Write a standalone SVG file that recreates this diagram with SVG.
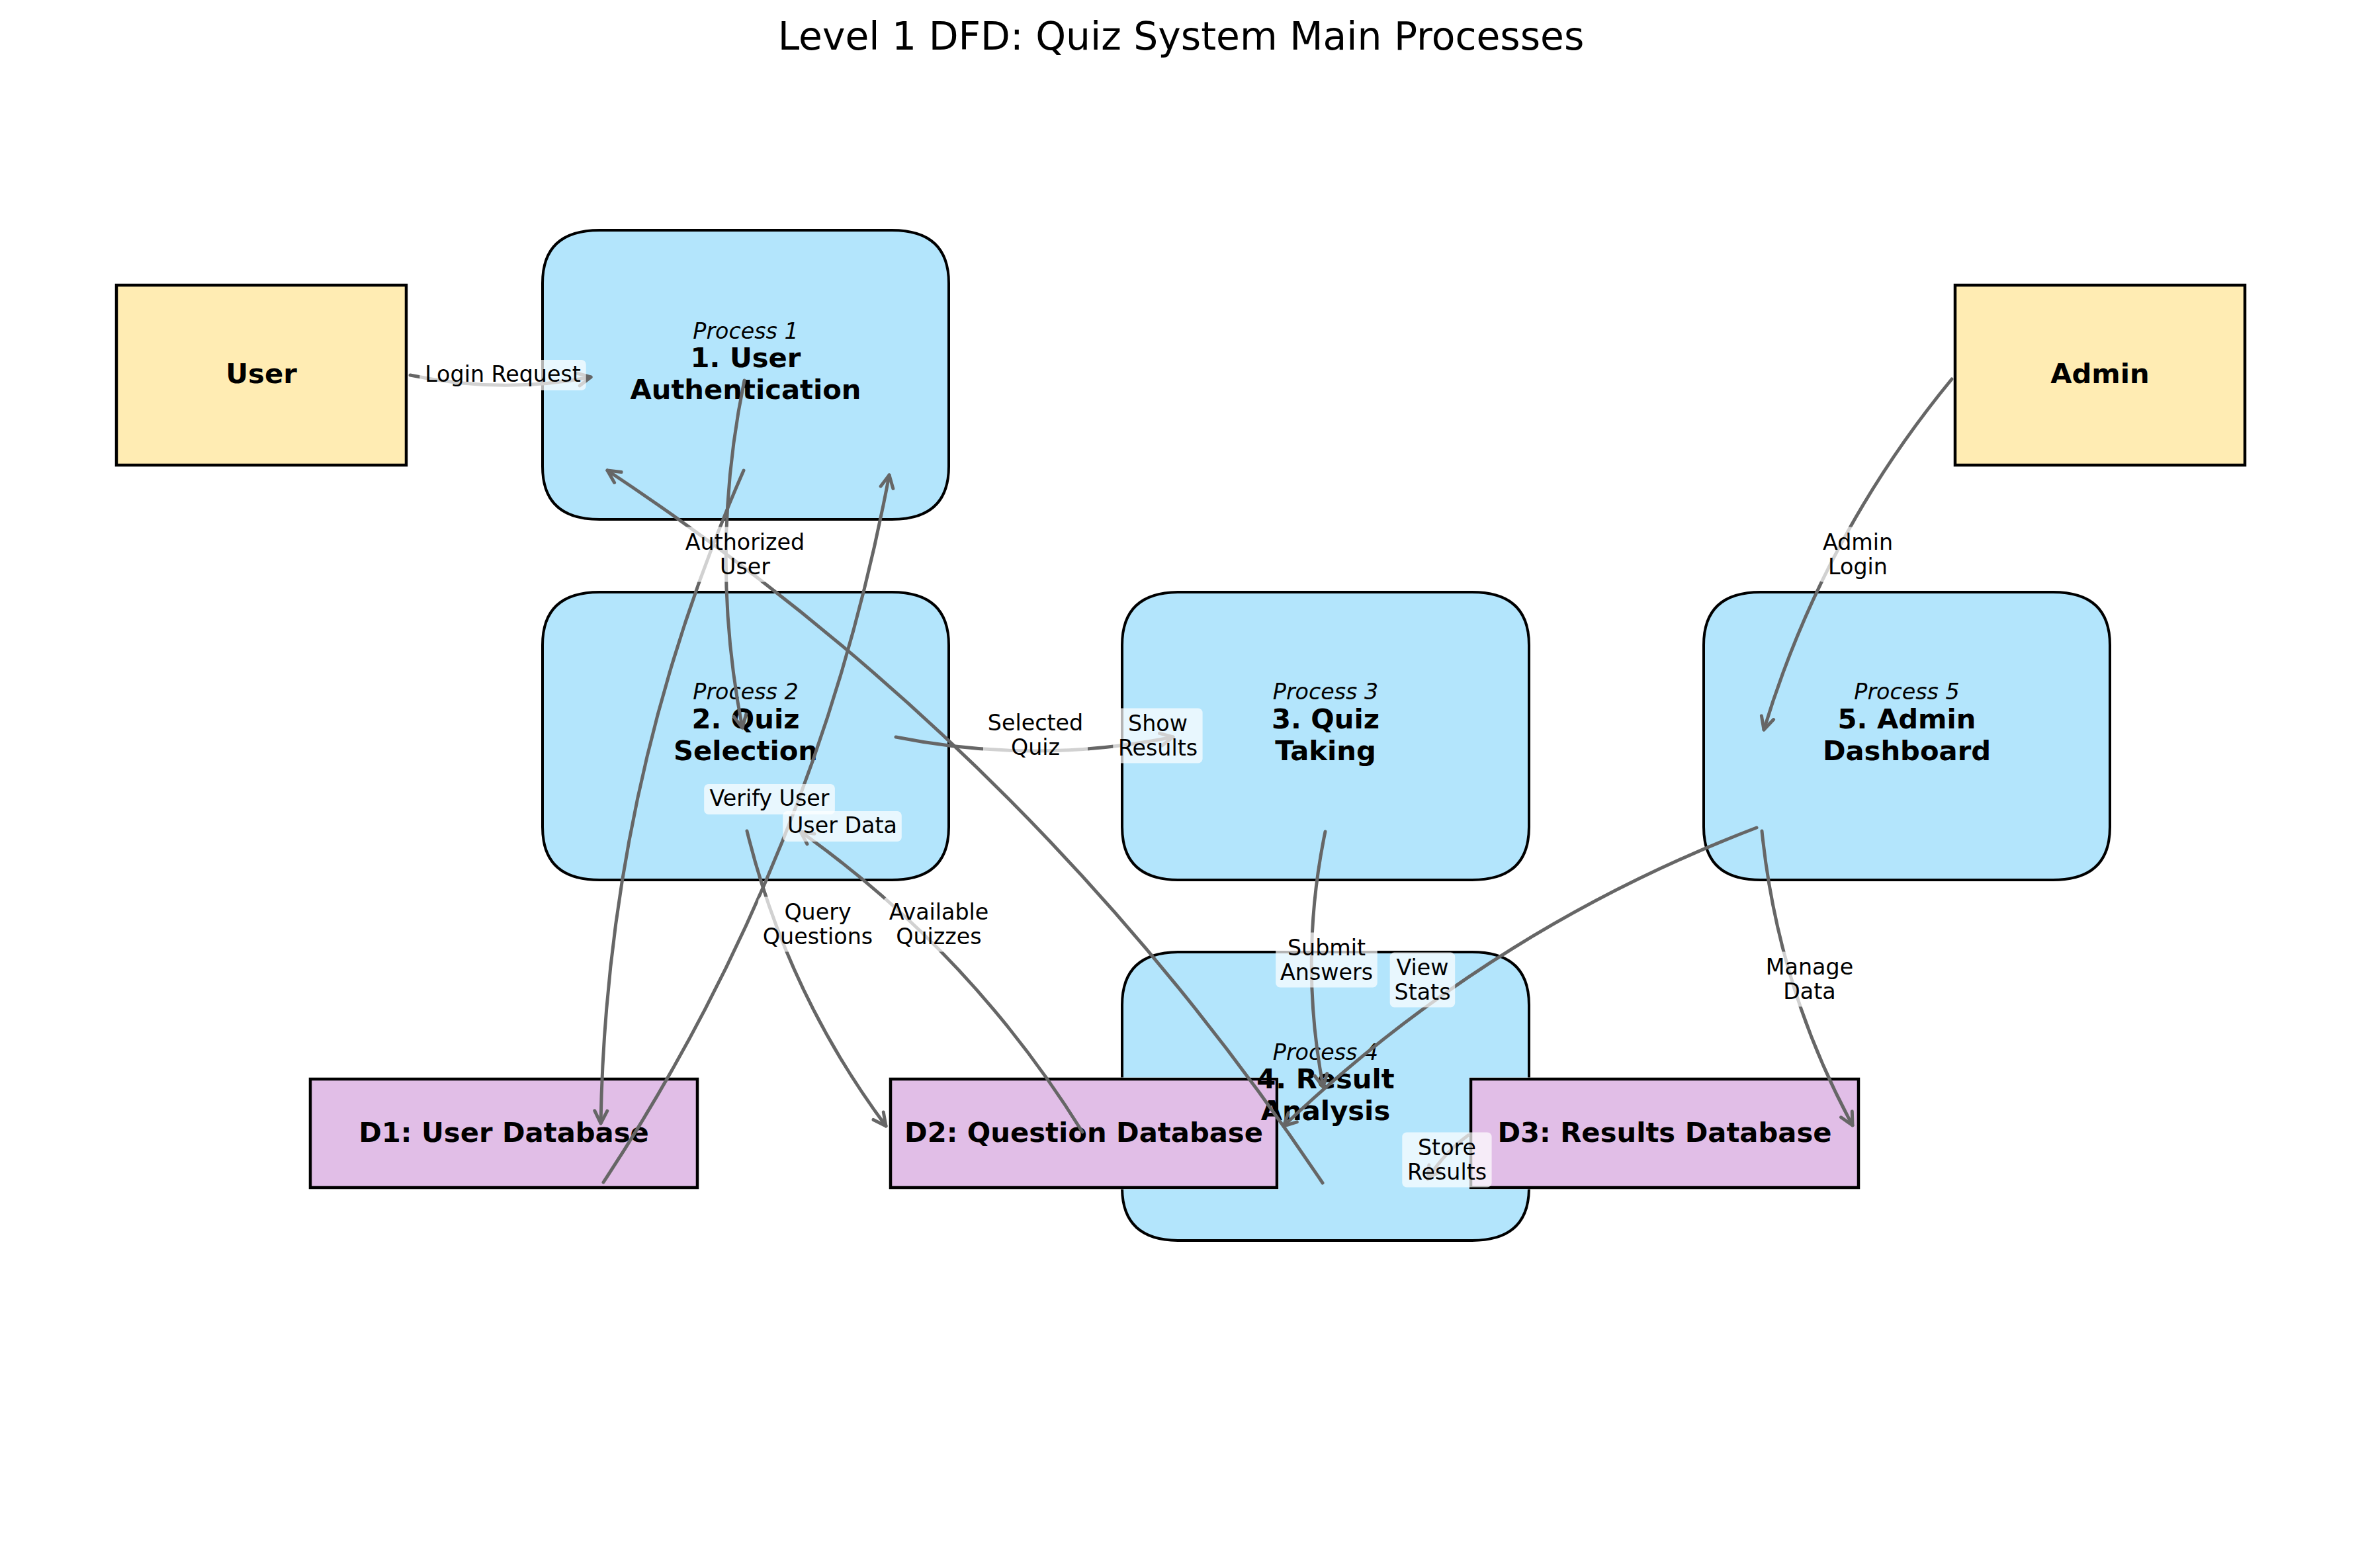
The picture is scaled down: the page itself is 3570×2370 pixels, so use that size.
<svg xmlns="http://www.w3.org/2000/svg" width="3570" height="2370" viewBox="0 0 3570 2370">
<style>
.proc{fill:#B3E5FC;stroke:#000;stroke-width:4}
.ext{fill:#FFECB3;stroke:#000;stroke-width:4.5}
.store{fill:#E1BEE7;stroke:#000;stroke-width:4.5}
.t{font-family:"DejaVu Sans","Liberation Sans",sans-serif;text-anchor:middle;fill:#000}
.nb{font-size:41.7px;font-weight:bold}
.ni{font-size:33.3px;font-style:italic}
.lbl{font-size:33.3px}
.ttl{font-size:58.3px}
.flow{fill:none;stroke:#666;stroke-width:5;stroke-linecap:round;marker-end:url(#ah)}
.lb{fill:#fff;fill-opacity:0.7}
</style>
<defs>
<marker id="ah" viewBox="-30 -20 40 40" refX="0" refY="0" markerWidth="40" markerHeight="40" markerUnits="userSpaceOnUse" orient="auto">
<path d="M-19,-9.5 L0,0 L-19,9.5" fill="none" stroke="#666" stroke-width="5" stroke-linecap="round" stroke-linejoin="round"/>
</marker>
<clipPath id="p4clip">
<path clip-rule="evenodd" d="M0,0 H3570 V2370 H0 Z M1343.5,1628.5 h589 v169 h-589 Z M2220.5,1628.5 h591 v169 h-591 Z"/>
</clipPath>
</defs>
<rect width="3570" height="2370" fill="#fff"/>
<text class="t ttl" x="1785" y="75">Level 1 DFD: Quiz System Main Processes</text>

<g id="nodes">
<g id="user">
<rect class="ext" x="176" y="431" width="438" height="272"/>
<text class="t nb" x="395" y="579">User</text>
</g>
<g id="p1">
<path class="proc" d="M906,348 H1348 Q1434,348 1434,428 V705 Q1434,785 1348,785 H906 Q820,785 820,705 V428 Q820,348 906,348 Z"/>
<text class="t ni" x="1127" y="511.5">Process 1</text>
<text class="t nb" x="1127" y="555">1. User</text>
<text class="t nb" x="1127" y="603">Authentication</text>
</g>
<g id="p2">
<path class="proc" d="M906,895 H1348 Q1434,895 1434,975 V1250 Q1434,1330 1348,1330 H906 Q820,1330 820,1250 V975 Q820,895 906,895 Z"/>
<text class="t ni" x="1127" y="1057">Process 2</text>
<text class="t nb" x="1127" y="1100.5">2. Quiz</text>
<text class="t nb" x="1127" y="1148.5">Selection</text>
</g>
<g id="p3">
<path class="proc" d="M1782,895 H2225 Q2311,895 2311,975 V1250 Q2311,1330 2225,1330 H1782 Q1696,1330 1696,1250 V975 Q1696,895 1782,895 Z"/>
<text class="t ni" x="2003.5" y="1057">Process 3</text>
<text class="t nb" x="2003.5" y="1100.5">3. Quiz</text>
<text class="t nb" x="2003.5" y="1148.5">Taking</text>
</g>
<g id="p5">
<path class="proc" d="M2661,895 H3103 Q3189,895 3189,975 V1250 Q3189,1330 3103,1330 H2661 Q2575,1330 2575,1250 V975 Q2575,895 2661,895 Z"/>
<text class="t ni" x="2882" y="1057">Process 5</text>
<text class="t nb" x="2882" y="1100.5">5. Admin</text>
<text class="t nb" x="2882" y="1148.5">Dashboard</text>
</g>
<g id="admin">
<rect class="ext" x="2955" y="431" width="438" height="272"/>
<text class="t nb" x="3174" y="579">Admin</text>
</g>
<g id="d1">
<rect class="store" x="469" y="1631" width="585" height="164"/>
<text class="t nb" x="761.5" y="1726">D1: User Database</text>
</g>
<g id="d2">
<rect class="store" x="1346" y="1631" width="584" height="164"/>
<text class="t nb" x="1638" y="1726">D2: Question Database</text>
</g>
<g id="d3">
<rect class="store" x="2223" y="1631" width="586" height="164"/>
<text class="t nb" x="2516" y="1726">D3: Results Database</text>
</g>
<g id="p4">
<path class="proc" clip-path="url(#p4clip)" d="M1782,1439 H2225 Q2311,1439 2311,1519 V1795 Q2311,1875 2225,1875 H1782 Q1696,1875 1696,1795 V1519 Q1696,1439 1782,1439 Z"/>
<text class="t ni" x="2003.5" y="1601.5">Process 4</text>
<text class="t nb" x="2003.5" y="1645">4. Result</text>
<text class="t nb" x="2003.5" y="1693">Analysis</text>
</g>
</g>

<g id="connectors">
<path class="flow" d="M620,567 Q757,596 893,570"/>
<path class="flow" d="M1125,575 Q1071,837 1122,1100"/>
<path class="flow" d="M1354,1114 Q1563.5,1156 1773,1114"/>
<path class="flow" d="M1124,711 Q917,1183 908,1698"/>
<path class="flow" d="M912,1787 Q1235,1296 1344,718"/>
<path class="flow" d="M1999,1788 Q1566,1141 918,711"/>
<path class="flow" d="M1129,1256 Q1189,1500 1339,1702"/>
<path class="flow" d="M1636,1711 Q1468,1441 1210,1257"/>
<path class="flow" d="M2003,1257 Q1963,1450 2000,1643"/>
<path class="flow" d="M2655,1251 Q2252,1405 1940,1702"/>
<path class="flow" d="M2663,1256 Q2687,1492 2800,1701"/>
<path class="flow" d="M2950,573 Q2755,810 2666,1103"/>
<path class="flow" d="M2219,1716 Q2182,1743 2158,1782"/>
</g>

<g id="flow-labels">
<g><rect class="lb" x="634.3" y="544" width="251.4" height="46" rx="6.7"/><text class="t lbl" x="760" y="577">Login Request</text></g>
<g><rect class="lb" x="1029" y="796.5" width="194" height="83" rx="6.7"/><text class="t lbl" x="1126" y="830.5">Authorized</text><text class="t lbl" x="1126" y="868">User</text></g>
<g><rect class="lb" x="1486" y="1069.5" width="158" height="83" rx="6.7"/><text class="t lbl" x="1565" y="1103.5">Selected</text><text class="t lbl" x="1565" y="1141">Quiz</text></g>
<g><rect class="lb" x="1682.3" y="1070.5" width="135.3" height="83" rx="6.7"/><text class="t lbl" x="1750" y="1104.5">Show</text><text class="t lbl" x="1750" y="1142">Results</text></g>
<g><rect class="lb" x="1064.2" y="1185" width="197.7" height="46" rx="6.7"/><text class="t lbl" x="1163" y="1218">Verify User</text></g>
<g><rect class="lb" x="1183.2" y="1226" width="179.6" height="46" rx="6.7"/><text class="t lbl" x="1273" y="1259">User Data</text></g>
<g><rect class="lb" x="1146" y="1355.5" width="180" height="83" rx="6.7"/><text class="t lbl" x="1236" y="1389.5">Query</text><text class="t lbl" x="1236" y="1427">Questions</text></g>
<g><rect class="lb" x="1335.8" y="1355.5" width="166.3" height="83" rx="6.7"/><text class="t lbl" x="1419" y="1389.5">Available</text><text class="t lbl" x="1419" y="1427">Quizzes</text></g>
<g><rect class="lb" x="1928.2" y="1409.5" width="153.5" height="83" rx="6.7"/><text class="t lbl" x="2005" y="1443.5">Submit</text><text class="t lbl" x="2005" y="1481">Answers</text></g>
<g><rect class="lb" x="2100.7" y="1439.5" width="98.5" height="83" rx="6.7"/><text class="t lbl" x="2150" y="1473.5">View</text><text class="t lbl" x="2150" y="1511">Stats</text></g>
<g><rect class="lb" x="2662.1" y="1438.5" width="145.8" height="83" rx="6.7"/><text class="t lbl" x="2735" y="1472.5">Manage</text><text class="t lbl" x="2735" y="1510">Data</text></g>
<g><rect class="lb" x="2747.9" y="796.5" width="120.2" height="83" rx="6.7"/><text class="t lbl" x="2808" y="830.5">Admin</text><text class="t lbl" x="2808" y="868">Login</text></g>
<g><rect class="lb" x="2119.3" y="1711.5" width="135.3" height="83" rx="6.7"/><text class="t lbl" x="2187" y="1745.5">Store</text><text class="t lbl" x="2187" y="1783">Results</text></g>
</g>
</svg>
